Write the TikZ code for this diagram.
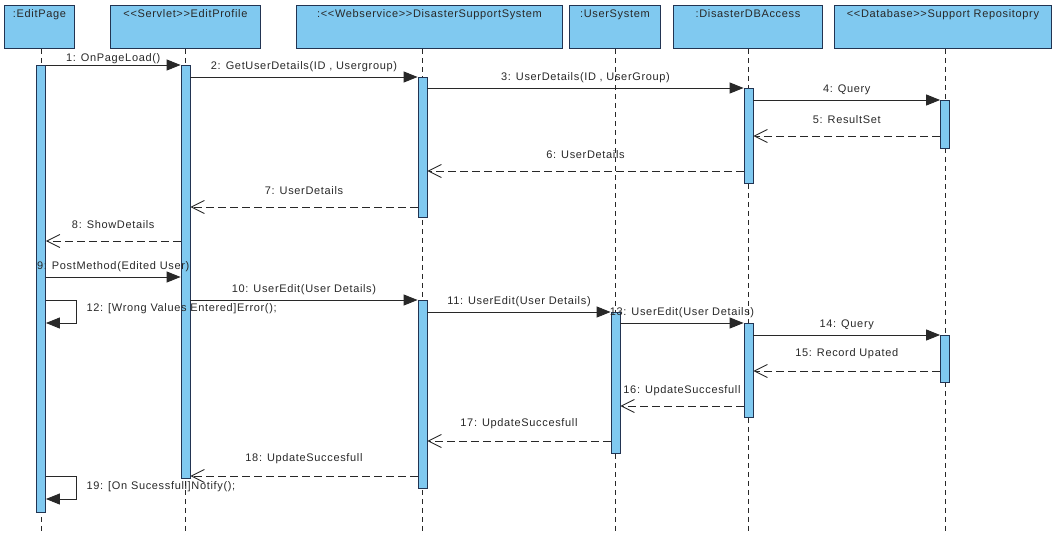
\documentclass[tikz,border=0pt]{standalone}
\usepackage{fontspec}
\setmainfont{Liberation Sans}[LetterSpace=6, Ligatures=TeXOff]
\usetikzlibrary{arrows.meta}

\definecolor{objfill}{RGB}{128,201,240}
\definecolor{objline}{RGB}{34,52,82}
\definecolor{ink}{RGB}{40,40,40}

\tikzset{
  hdr/.style={draw=objline, fill=objfill, line width=0.9pt, anchor=north west,
    minimum height=43pt, inner sep=0pt},
  hdrtext/.style={anchor=north, inner sep=4.5pt, text=ink},
  bar/.style={draw=objline, fill=objfill, line width=0.8pt, anchor=north,
    minimum width=9pt, inner sep=0pt},
  lifeline/.style={draw=ink, line width=0.8pt, dash pattern=on 5pt off 4pt},
  call/.style={draw=ink, line width=0.9pt, -{Triangle[length=14pt,width=11pt]}},
  reply/.style={draw=ink, line width=0.9pt, dash pattern=on 8pt off 4pt,
    -{Straight Barb[length=13pt,width=13pt]}},
  clbl/.style={midway, above, yshift=1.5pt, text=ink},
  rlbl/.style={midway, above, yshift=8.5pt, text=ink},
  selflbl/.style={anchor=north west, xshift=6pt, text=ink},
}

\begin{document}
\begin{tikzpicture}[x=1pt, y=-1pt, font=\fontsize{11}{13}\selectfont]
\useasboundingbox (0,0) rectangle (1057,535);

% object headers
\node[hdr, minimum width=70pt,  label={[hdrtext]north::EditPage}] (hEP) at (4,5) {};
\node[hdr, minimum width=150pt, label={[hdrtext]north:{<<Servlet>>EditProfile}}] (hSV) at (110,5) {};
\node[hdr, minimum width=266pt, label={[hdrtext]north:{:<<Webservice>>DisasterSupportSystem}}] (hWS) at (296,5) {};
\node[hdr, minimum width=91pt,  label={[hdrtext]north::UserSystem}] (hUS) at (569,5) {};
\node[hdr, minimum width=149pt, label={[hdrtext]north::DisasterDBAccess}] (hDB) at (673,5) {};
\node[hdr, minimum width=217pt, label={[hdrtext]north:{<<Database>>Support Repositopry}}] (hRP) at (834,5) {};

% lifeline positions
\coordinate (xEP) at (41,0);
\coordinate (xSV) at (185.5,0);
\coordinate (xWS) at (422.5,0);
\coordinate (xUS) at (615.5,0);
\coordinate (xDB) at (748.5,0);
\coordinate (xRP) at (945,0);
\coordinate (floor) at (0,535);

% lifelines
\draw[lifeline] (xEP |- hEP.south) -- (xEP |- floor);
\draw[lifeline] (xSV |- hSV.south) -- (xSV |- floor);
\draw[lifeline] (xWS |- hWS.south) -- (xWS |- floor);
\draw[lifeline] (xUS |- hUS.south) -- (xUS |- floor);
\draw[lifeline] (xDB |- hDB.south) -- (xDB |- floor);
\draw[lifeline] (xRP |- hRP.south) -- (xRP |- floor);

% activation bars
\path
  (41,65)     node[bar, minimum height=447pt] (a1) {}
  (185.5,65)  node[bar, minimum height=413pt] (b1) {}
  (422.5,77)  node[bar, minimum height=140pt] (c1) {}
  (422.5,300) node[bar, minimum height=188pt] (c2) {}
  (615.5,312) node[bar, minimum height=141pt] (d1) {}
  (748.5,88)  node[bar, minimum height=95pt]  (e1) {}
  (748.5,323) node[bar, minimum height=94pt]  (e2) {}
  (945,100)   node[bar, minimum height=48pt]  (f1) {}
  (945,335)   node[bar, minimum height=47pt]  (f2) {};

% messages
\draw[call]  (a1.east |- 0,65)  -- node[clbl, yshift=-4pt]{1: OnPageLoad()} (b1.west |- 0,65);
\draw[call]  (b1.east |- 0,77)  -- node[clbl]{2: GetUserDetails(ID , Usergroup)} (c1.west |- 0,77);
\draw[call]  (c1.east |- 0,88)  -- node[clbl]{3: UserDetails(ID , UserGroup)} (e1.west |- 0,88);
\draw[call]  (e1.east |- 0,100) -- node[clbl]{4: Query} (f1.west |- 0,100);
\draw[reply] (f1.west |- 0,136) -- node[rlbl]{5: ResultSet} (e1.east |- 0,136);
\draw[reply] (e1.west |- 0,171) -- node[rlbl]{6: UserDetails} (c1.east |- 0,171);
\draw[reply] (c1.west |- 0,207) -- node[rlbl]{7: UserDetails} (b1.east |- 0,207);
\draw[reply] (b1.west |- 0,241) -- node[rlbl]{8: ShowDetails} (a1.east |- 0,241);
\draw[call]  (a1.east |- 0,277) -- node[clbl]{9: PostMethod(Edited User)} (b1.west |- 0,277);
\draw[call]  (b1.east |- 0,300) -- node[clbl]{10: UserEdit(User Details)} (c2.west |- 0,300);
\draw[call]  (c2.east |- 0,312) -- node[clbl]{11: UserEdit(User Details)} (d1.west |- 0,312);
\draw[call]  (a1.east |- 0,300) -- ++(31,0) node[selflbl]{12: [Wrong Values Entered]Error();}
             |- (a1.east |- 0,323);
\draw[call]  (d1.east |- 0,323) -- node[clbl]{13: UserEdit(User Details)} (e2.west |- 0,323);
\draw[call]  (e2.east |- 0,335) -- node[clbl]{14: Query} (f2.west |- 0,335);
\draw[reply] (f2.west |- 0,371) -- node[rlbl]{15: Record Upated} (e2.east |- 0,371);
\draw[reply] (e2.west |- 0,406) -- node[rlbl, yshift=-2pt]{16: UpdateSuccesfull} (d1.east |- 0,406);
\draw[reply] (d1.west |- 0,441) -- node[rlbl]{17: UpdateSuccesfull} (c2.east |- 0,441);
\draw[reply] (c2.west |- 0,476) -- node[rlbl]{18: UpdateSuccesfull} (b1.east |- 0,476);
\draw[call]  (a1.east |- 0,476) -- ++(31,0) node[selflbl, yshift=-2pt]{19: [On Sucessfull]Notify();}
             |- (a1.east |- 0,499);
\end{tikzpicture}
\end{document}
